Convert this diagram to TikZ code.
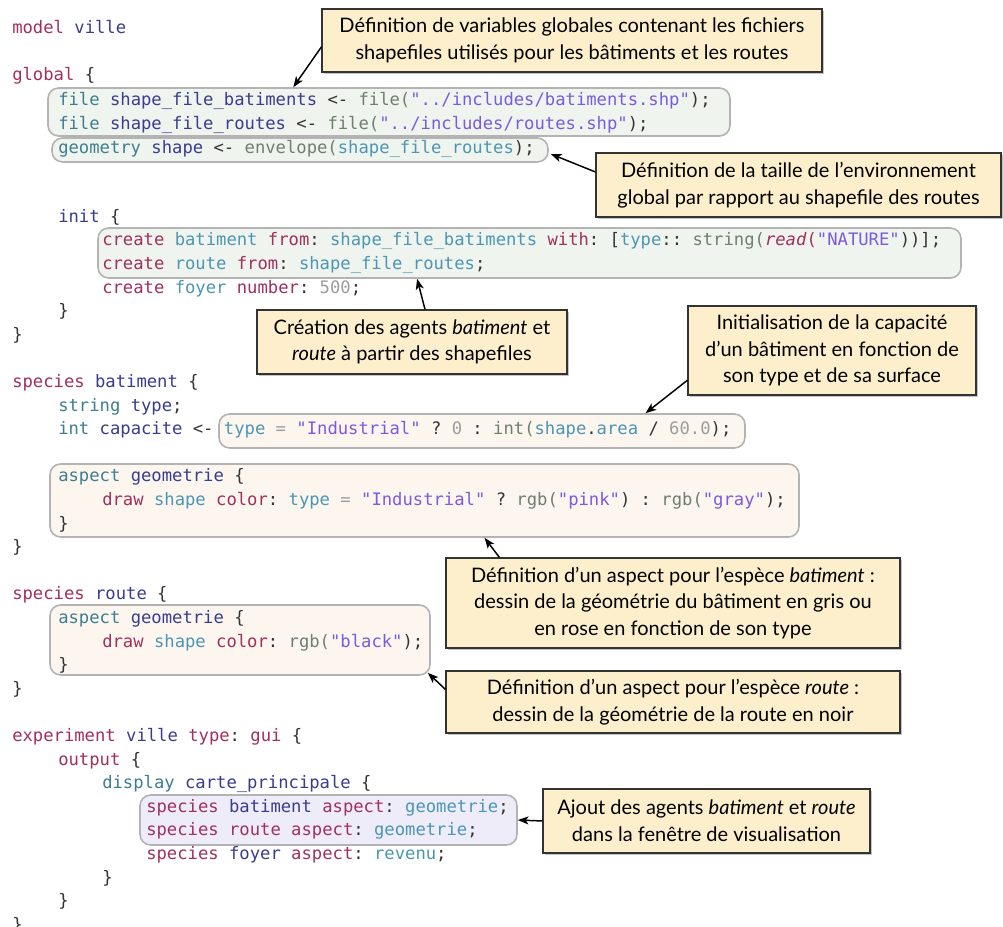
\documentclass[tikz,border=0pt]{standalone}
\usepackage{fontspec}
\setmainfont{Lato}
\setmonofont{DejaVu Sans Mono}
\usepackage{xcolor}
\usetikzlibrary{arrows.meta,positioning,fit,calc,shadows}
\definecolor{kwred}{HTML}{A0305E}
\definecolor{navy}{HTML}{3A3C8E}
\definecolor{teal}{HTML}{4C96B4}
\definecolor{tealdk}{HTML}{3E7E8E}
\definecolor{fngreen}{HTML}{6E806C}
\definecolor{strviol}{HTML}{7B5BDD}
\definecolor{numgray}{HTML}{9C9C9C}
\definecolor{punct}{HTML}{333333}
\definecolor{greenbox}{HTML}{F0F4EE}
\definecolor{beigebox}{HTML}{FCF6EF}
\definecolor{purplebox}{HTML}{EFECFA}
\definecolor{boxgray}{HTML}{B3B3B3}
\definecolor{notefill}{HTML}{FDEFCB}
\definecolor{notedraw}{HTML}{333333}
\newcommand{\Kw}[1]{\textcolor{kwred}{#1}}
\newcommand{\Nv}[1]{\textcolor{navy}{#1}}
\newcommand{\Tl}[1]{\textcolor{teal}{#1}}
\newcommand{\Td}[1]{\textcolor{tealdk}{#1}}
\newcommand{\Fn}[1]{\textcolor{fngreen}{#1}}
\newcommand{\St}[1]{\textcolor{strviol}{#1}}
\newcommand{\Nm}[1]{\textcolor{numgray}{#1}}
\tikzset{
  arr/.style={-{Stealth[length=8pt,width=6pt,inset=2pt]},line width=1.1pt},
  code/.style={anchor=base west,inner sep=0pt,text=punct,
    font=\ttfamily\fontsize{12.9}{17}\selectfont},
  cbox/.style={rectangle,rounded corners=8pt,draw=boxgray,line width=1.2pt,inner sep=0pt},
  note/.style={rectangle,draw=notedraw,fill=notefill,line width=0.9pt,inner sep=0pt,
    align=center,font=\fontsize{15}{20}\selectfont,
    execute at begin node={\rule{0pt}{17.5pt}},
    drop shadow={shadow xshift=1.2pt,shadow yshift=-1.2pt,opacity=0.45}},
}

\begin{document}
\begin{tikzpicture}[x=0.75pt,y=-0.75pt]
\path[use as bounding box,fill=white] (0,0) rectangle (1003,927);

% highlighted code blocks
\node[cbox,fill=greenbox,fit={(48,88) (730,136)}] (bA) {};
\node[cbox,fill=greenbox,fit={(52,138) (548,162)}] (bB) {};
\node[cbox,fill=greenbox,fit={(98,228) (961,278)}] (bC) {};
\node[cbox,fill=beigebox,fit={(219,414) (745,448)}] (bD) {};
\node[cbox,fill=beigebox,fit={(50,464) (799,537)}] (bE) {};
\node[cbox,fill=beigebox,fit={(50,605) (430,675)}] (bF) {};
\node[cbox,fill=purplebox,fit={(140,795) (517,845)}] (bG) {};

% code
\node[code] (l0) at (12,33.5) {\Kw{model} \Nv{ville}};
\node[code] (l2) at (12,80.7) {\Kw{global} \{};
\node[code] (l3) at (58,106) {\Td{file} \Nv{shape\_file\_batiments} <- \Fn{file(}\St{"../includes/batiments.shp"});};
\node[code] (l4) at (58,129.5) {\Td{file} \Nv{shape\_file\_routes} <- \Fn{file(}\St{"../includes/routes.shp"});};
\node[code] (l5) at (58,154) {\Td{geometry} \Nv{shape} <- \Fn{envelope(}\Tl{shape\_file\_routes});};
\node[code] (l8) at (58,222.3) {\Nv{init} \{};
\node[code] (l9) at (102,245.9) {\Kw{create} \Tl{batiment} \Kw{from}: \Tl{shape\_file\_batiments} \Kw{with}: [\Tl{type}:: \Fn{string(}\Kw{\textit{read}(}\St{"NATURE"}))];};
\node[code] (l10) at (102,269.5) {\Kw{create} \Tl{route} \Kw{from}: \Tl{shape\_file\_routes};};
\node[code] (l11) at (102,293.1) {\Kw{create} \Tl{foyer} \Kw{number}: \Nm{500};};
\node[code] (l12) at (58,316.7) {\}};
\node[code] (l13) at (12,340.3) {\}};
\node[code] (l15) at (12,387.5) {\Kw{species} \Nv{batiment} \{};
\node[code] (l16) at (58,411.1) {\Td{string} \Nv{type};};
\node[code] (l17) at (58,434.7) {\Td{int} \Nv{capacite} <- \Tl{type} \Nm{=} \St{"Industrial"} ? \Nm{0} : \Fn{int(}\Tl{shape}.\Tl{area} / \Nm{60.0});};
\node[code] (l19) at (58,481.9) {\Td{aspect} \Nv{geometrie} \{};
\node[code] (l20) at (102,505.5) {\Kw{draw} \Tl{shape} \Kw{color}: \Tl{type} \Nm{=} \St{"Industrial"} ? \Fn{rgb(}\St{"pink"}) : \Fn{rgb(}\St{"gray"});};
\node[code] (l21) at (58,529.1) {\}};
\node[code] (l22) at (12,552.7) {\}};
\node[code] (l24) at (12,599.9) {\Kw{species} \Nv{route} \{};
\node[code] (l25) at (58,623.5) {\Td{aspect} \Nv{geometrie} \{};
\node[code] (l26) at (102,647.1) {\Kw{draw} \Tl{shape} \Kw{color}: \Fn{rgb(}\St{"black"});};
\node[code] (l27) at (58,670.7) {\}};
\node[code] (l28) at (12,694.3) {\}};
\node[code] (l30) at (12,741.5) {\Kw{experiment} \Nv{ville} \Kw{type}: \Kw{gui} \{};
\node[code] (l31) at (58,765.1) {\Kw{output} \{};
\node[code] (l32) at (102,788.7) {\Td{display} \Nv{carte\_principale} \{};
\node[code] (l33) at (146,812.3) {\Kw{species} \Nv{batiment} \Kw{aspect}: \Tl{geometrie};};
\node[code] (l34) at (146,835.9) {\Kw{species} \Kw{route} \Kw{aspect}: \Tl{geometrie};};
\node[code] (l35) at (146,859.5) {\Kw{species} \Nv{foyer} \Kw{aspect}: \Tl{revenu};};
\node[code] (l36) at (102,883.1) {\}};
\node[code] (l37) at (58,906.7) {\}};
\node[code] (l38) at (12,930.3) {\}};

% callouts
\node[note,minimum width=375pt,minimum height=47.25pt] (c1) at (572,40.5) {Définition de variables globales contenant les fichiers\\shapefiles utilisés pour les bâtiments et les routes};
\node[note,minimum width=303.75pt,minimum height=48pt] (c2) at (798.5,185) {Définition de la taille de l’environnement\\global par rapport au shapefile des routes};
\node[note,minimum width=232.5pt,minimum height=48pt] (c3) at (412,342) {Création des agents \textit{batiment} et\\\textit{route} à partir des shapefiles};
\node[note,minimum width=216pt,minimum height=66.75pt] (c4) at (832,350.5) {Initialisation de la capacité\\d’un bâtiment en fonction de\\son type et de sa surface};
\node[note,minimum width=340.5pt,minimum height=67.5pt] (c5) at (673,603) {Définition d’un aspect pour l’espèce \textit{batiment} :\\dessin de la géométrie du bâtiment en gris ou\\en rose en fonction de son type};
\node[note,minimum width=340.5pt,minimum height=46.5pt] (c6) at (673,702) {Définition d’un aspect pour l’espèce \textit{route} :\\dessin de la géométrie de la route en noir};
\node[note,minimum width=245.25pt,minimum height=48pt] (c7) at (706.5,821) {Ajout des agents \textit{batiment} et \textit{route}\\dans la fenêtre de visualisation};

\draw[arr] ($(c1.north west)!0.6!(c1.south west)$) -- ($(bA.north west)!0.36!(bA.north east)$);
\draw[arr] ($(c2.north west)!0.3!(c2.south west)$) -- ($(bB.east)+(2,4)$);
\draw[arr] ($(c3.north)+(13,0)$) -- ($(bC.south west)!0.37!(bC.south east)$);
\draw[arr] ($(c4.north west)!0.83!(c4.south west)$) -- ($(bD.north west)!0.81!(bD.north east)$);
\draw[arr] ($(c5.north west)+(54,0)$) -- ($(bE.south west)!0.58!(bE.south east)$);
\draw[arr] ($(c6.north west)!0.3!(c6.south west)$) -- ($(bF.south east)+(-3,-3)$);
\draw[arr] (c7.west) -- (bG.east);
\end{tikzpicture}
\end{document}
